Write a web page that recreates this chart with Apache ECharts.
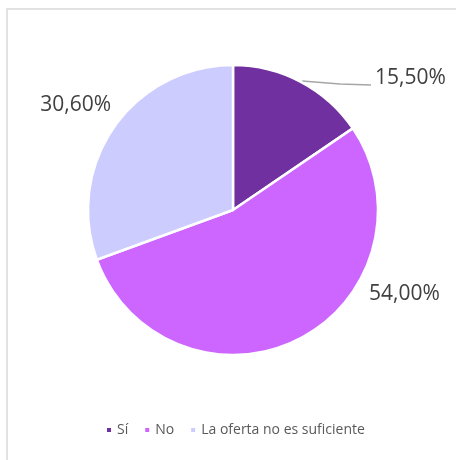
<!DOCTYPE html>
<html>
<head>
<meta charset="utf-8">
<script src="https://cdn.jsdelivr.net/npm/echarts@6/dist/echarts.min.js"></script>
<style>
html,body{margin:0;padding:0;background:#fff;}
#c{width:456px;height:460px;}
</style>
</head>
<body>
<div id="c"></div>
<script>
const categories = ['Sí', 'No', 'La oferta no es suficiente'];
const values = [15.5, 54.0, 30.6];
const labelTexts = ['15,50%', '54,00%', '30,60%'];
const colors = ['#7030A0', '#CC66FF', '#CCCCFF'];

const chart = echarts.init(document.getElementById('c'), null, {renderer: 'canvas'});
const labelPos = [
  {x: 375, y: 78, align: 'left'},
  {x: 369, y: 294, align: 'left'},
  {x: 111, y: 105, align: 'right'}
];
chart.setOption({
  animation: false,
  backgroundColor: '#fff',
  graphic: [{
    type: 'rect',
    shape: {x: 7, y: 9, width: 470, height: 470},
    style: {fill: 'none', stroke: '#D9D9D9', lineWidth: 1.5},
    silent: true,
    z: -1
  }],
  legend: {
    top: 418,
    left: 100,
    icon: 'rect',
    itemWidth: 6,
    itemHeight: 6,
    itemGap: 15,
    textStyle: {color: '#595959', fontSize: 14, fontFamily: 'Open Sans'},
    data: categories
  },
  series: [{
    type: 'pie',
    center: [233, 210],
    radius: 145,
    startAngle: 90,
    clockwise: true,
    avoidLabelOverlap: false,
    itemStyle: {borderColor: '#fff', borderWidth: 2.5},
    label: {
      show: true,
      position: 'outside',
      color: '#404040',
      fontSize: 21,
      fontFamily: 'Open Sans',
      formatter: p => labelTexts[p.dataIndex]
    },
    labelLine: {show: true, lineStyle: {color: '#A6A6A6', width: 1.5}, length: 5, length2: 60},
    labelLayout: function (p) {
      const lp = labelPos[p.dataIndex];
      const res = {x: lp.x, y: lp.y, align: lp.align, verticalAlign: 'middle'};
      if (p.dataIndex === 0) {
        res.labelLinePoints = [[302, 81], [340, 84], [371, 85]];
      } else {
        res.labelLinePoints = [[0, 0], [0, 0], [0, 0]];
      }
      return res;
    },
    data: categories.map((c, i) => ({
      name: c,
      value: values[i],
      itemStyle: {color: colors[i]},
      labelLine: {show: i === 0}
    }))
  }]
});
</script>
</body>
</html>
